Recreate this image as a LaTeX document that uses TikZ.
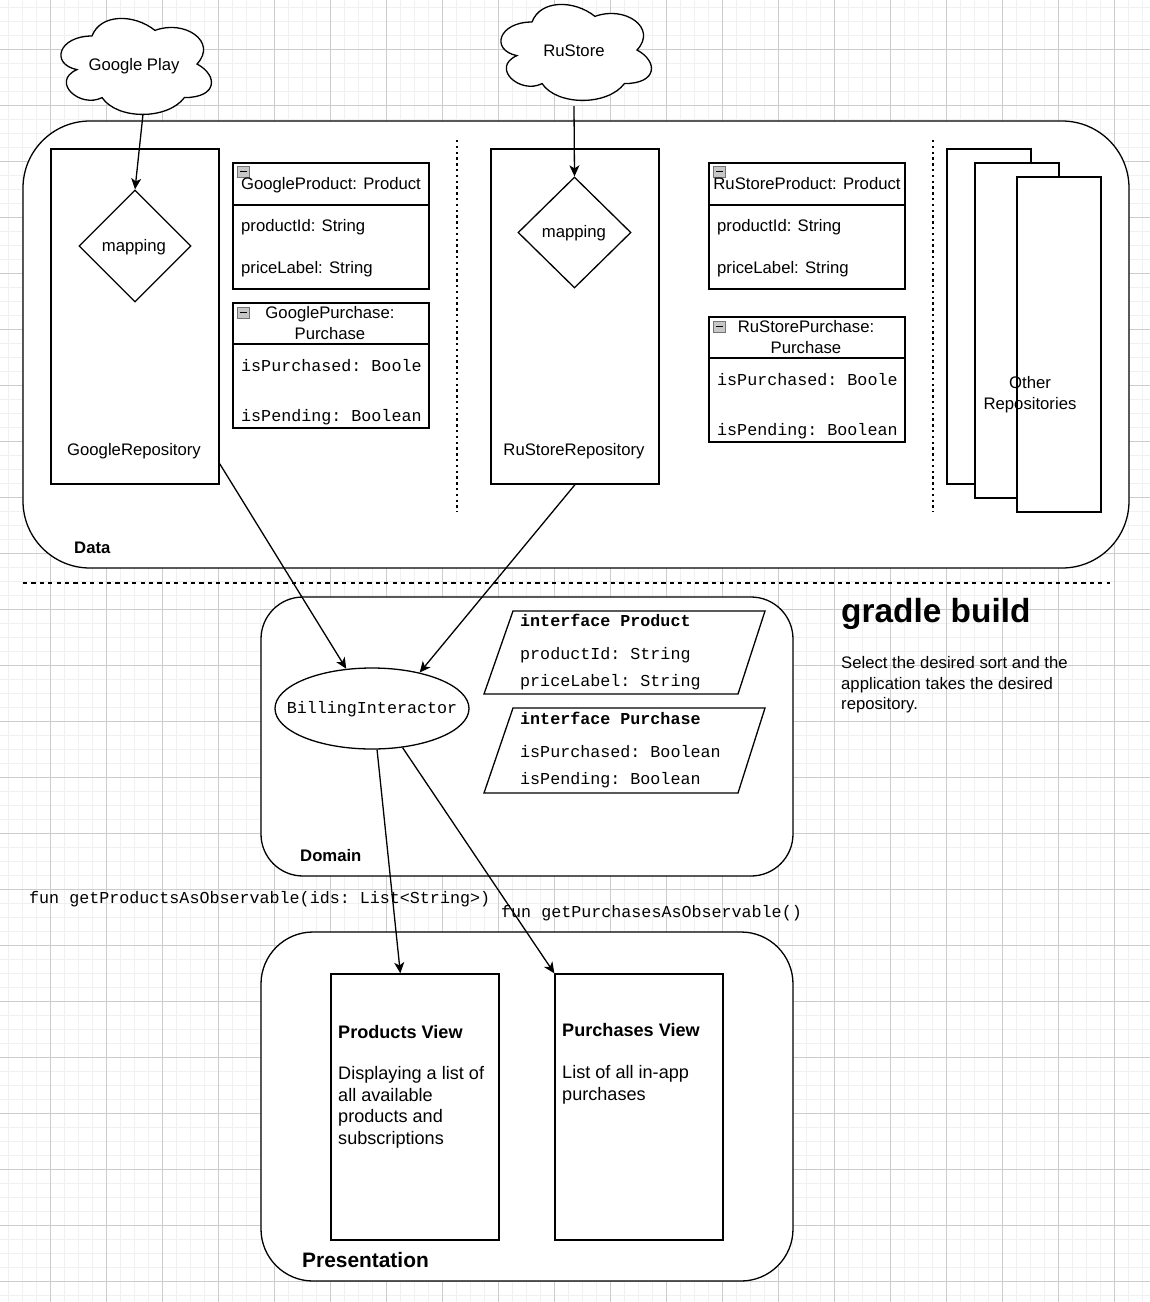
\documentclass[tikz,border=0pt]{standalone}
\usepackage{fontspec}
\setmainfont{Liberation Sans}
\setmonofont{Liberation Mono}
\usetikzlibrary{shapes.geometric,arrows.meta,calc}
\tikzset{
  fnt/.style={font=\fontsize{16.7pt}{20.9pt}\selectfont, inner sep=0pt},
  fntb/.style={font=\bfseries\fontsize{16.7pt}{20.9pt}\selectfont, inner sep=0pt},
  fntl/.style={font=\fontsize{18.1pt}{21.7pt}\selectfont, inner sep=0pt},
  fntlb/.style={font=\bfseries\fontsize{18.1pt}{21.7pt}\selectfont, inner sep=0pt},
  mono/.style={font=\ttfamily\fontsize{16.7pt}{20.9pt}\selectfont, inner sep=0pt},
  monob/.style={font=\ttfamily\bfseries\fontsize{16.7pt}{20.9pt}\selectfont, inner sep=0pt},
  minorgrid/.style={draw=black!6, line width=0.8pt},
  majorgrid/.style={draw=black!20, line width=0.8pt},
  shp/.style={draw=black, line width=1.3pt, fill=white},
  rbox/.style={shp, rectangle, inner sep=0pt},
  cellbox/.style={rectangle, inner sep=0pt, minimum width=168pt, minimum height=112pt},
  icon/.style={draw=black!55, fill=black!22, line width=0.8pt},
  conn/.style={draw=black, line width=1.3pt, -{Stealth[length=11pt,width=10pt,inset=3pt]}},
}
\newcommand{\cloudpath}{%
  (0.25,0.25) .. controls (0.05,0.25) and (0,0.5) .. (0.16,0.55)
  .. controls (0,0.66) and (0.18,0.9) .. (0.31,0.8)
  .. controls (0.4,1) and (0.7,1) .. (0.8,0.8)
  .. controls (1,0.8) and (1,0.6) .. (0.875,0.5)
  .. controls (1,0.3) and (0.8,0.1) .. (0.625,0.2)
  .. controls (0.5,0.05) and (0.3,0.05) .. (0.25,0.25) -- cycle}
\begin{document}
\begin{tikzpicture}[x=1pt,y=-1pt]
\useasboundingbox (0,0) rectangle (1150,1302);
\fill[white] (0,0) rectangle (1150,1302);
% grid
\foreach \i in {0,...,81} \draw[minorgrid] ({8+14*\i},0) -- ({8+14*\i},1302);
\foreach \i in {0,...,92} \draw[minorgrid] (0,{7+14*\i}) -- (1150,{7+14*\i});
\foreach \i in {0,...,19} \draw[majorgrid] ({50+56*\i},0) -- ({50+56*\i},1302);
\foreach \i in {0,...,22} \draw[majorgrid] (0,{49+56*\i}) -- (1150,{49+56*\i});

% clouds
\begin{scope}[shift={(50,8)}, x=168pt, y=-112pt]
  \draw[shp] \cloudpath;
\end{scope}
\node[cellbox] (gcloud) at (134,64) {};
\node[fnt, anchor=base] (gcloudlbl) at (134,70) {Google Play};
\begin{scope}[shift={(490,-6)}, x=168pt, y=-112pt]
  \draw[shp] \cloudpath;
\end{scope}
\node[cellbox] (rcloud) at (574,50) {};
\node[fnt, anchor=base] (rcloudlbl) at (574,56) {RuStore};

% Data container
\draw[shp, rounded corners=67pt] (23,121) rectangle (1129,568);
\node[fntb, anchor=base west] (datalbl) at (74,553) {Data};
\draw[line width=2.4pt, dash pattern=on 2.4pt off 3.4pt] (457,140) -- (457,512);
\draw[line width=2.4pt, dash pattern=on 2.4pt off 3.4pt] (933,140) -- (933,512);

% Google repository
\node[rbox, minimum width=168pt, minimum height=335pt] (grepo) at (135,316.5) {};
\node[fnt, anchor=base] (grepolbl) at (134,455) {GoogleRepository};
\node[diamond, shp, aspect=1, inner sep=0pt, minimum width=112pt, minimum height=112pt] (gmap) at (135,246) {};
\node[fnt, anchor=base] (gmaplbl) at (134,251) {mapping};

% GoogleProduct
\draw[shp] (233,163) rectangle (429,289);
\draw[line width=1.3pt] (233,205) -- (429,205);
\draw[icon] (237,166) rectangle (249,177);
\draw[line width=1pt] (239.5,171.5) -- (246.5,171.5);
\node[fnt, anchor=base] (gp1) at (331,189) {GoogleProduct: Product};
\node[fnt, anchor=base west] (gp2) at (241,231) {productId: String};
\node[fnt, anchor=base west] (gp3) at (241,273) {priceLabel: String};

% GooglePurchase
\draw[shp] (233,303) rectangle (429,428);
\draw[line width=1.3pt] (233,344) -- (429,344);
\draw[icon] (237,307) rectangle (249,318);
\draw[line width=1pt] (239.5,312.5) -- (246.5,312.5);
\node[fnt, anchor=base] (gu1) at (330,318) {GooglePurchase:};
\node[fnt, anchor=base] (gu2) at (330,339) {Purchase};
\node[mono, anchor=base west] (gu3) at (241,371) {isPurchased: Boole};
\node[mono, anchor=base west] (gu4) at (241,421) {isPending: Boolean};

% RuStore repository
\node[rbox, minimum width=168pt, minimum height=335pt] (rrepo) at (575,316.5) {};
\node[fnt, anchor=base] (rrepolbl) at (574,455) {RuStoreRepository};
\node[diamond, shp, aspect=1, inner sep=0pt, minimum width=113pt, minimum height=111pt] (rmap) at (574.5,232.5) {};
\node[fnt, anchor=base] (rmaplbl) at (574,237) {mapping};

% RuStoreProduct
\draw[shp] (709,163) rectangle (905,289);
\draw[line width=1.3pt] (709,205) -- (905,205);
\draw[icon] (713,166) rectangle (725,177);
\draw[line width=1pt] (715.5,171.5) -- (722.5,171.5);
\node[fnt, anchor=base] (rp1) at (807,189) {RuStoreProduct: Product};
\node[fnt, anchor=base west] (rp2) at (717,231) {productId: String};
\node[fnt, anchor=base west] (rp3) at (717,273) {priceLabel: String};

% RuStorePurchase
\draw[shp] (709,317) rectangle (905,442);
\draw[line width=1.3pt] (709,358) -- (905,358);
\draw[icon] (713,321) rectangle (725,332);
\draw[line width=1pt] (715.5,326.5) -- (722.5,326.5);
\node[fnt, anchor=base] (ru1) at (806,332) {RuStorePurchase:};
\node[fnt, anchor=base] (ru2) at (806,353) {Purchase};
\node[mono, anchor=base west] (ru3) at (717,385) {isPurchased: Boole};
\node[mono, anchor=base west] (ru4) at (717,435) {isPending: Boolean};

% Other repositories
\node[rbox, minimum width=84pt, minimum height=335pt] (or1) at (989,316.5) {};
\node[rbox, minimum width=84pt, minimum height=335pt] (or2) at (1017,330.5) {};
\node[rbox, minimum width=84pt, minimum height=335pt] (or3) at (1059,344.5) {};
\node[fnt, anchor=base] (orl1) at (1030,388) {Other};
\node[fnt, anchor=base] (orl2) at (1030,409) {Repositories};

% separator
\draw[line width=1.3pt, dash pattern=on 4.2pt off 4.2pt] (23,583) -- (1110,583);

% Domain
\draw[shp, rounded corners=42pt] (261,597) rectangle (793,876);
\node[fntb, anchor=base west] (domlbl) at (300,861) {Domain};
\node[ellipse, shp, inner sep=0pt, minimum width=194pt, minimum height=81pt] (bi) at (372,708.5) {};
\node[mono, anchor=base] (bilbl) at (372,713) {BillingInteractor};

\draw[shp] (513,611) -- (765,611) -- (738,694) -- (484,694) -- cycle;
\node[monob, anchor=base west] (ip1) at (520,626) {interface Product};
\node[mono, anchor=base west] (ip2) at (520,659) {productId: String};
\node[mono, anchor=base west] (ip3) at (520,686) {priceLabel: String};

\draw[shp] (513,708) -- (765,708) -- (738,793) -- (484,793) -- cycle;
\node[monob, anchor=base west] (iu1) at (520,724) {interface Purchase};
\node[mono, anchor=base west] (iu2) at (520,757) {isPurchased: Boolean};
\node[mono, anchor=base west] (iu3) at (520,784) {isPending: Boolean};

% gradle build
\node[font=\bfseries\fontsize{33.4pt}{40pt}\selectfont, inner sep=0pt, anchor=base west] (gb) at (841,622) {gradle build};
\node[fnt, anchor=base west] (gbt1) at (841,668) {Select the desired sort and the};
\node[fnt, anchor=base west] (gbt2) at (841,689) {application takes the desired};
\node[fnt, anchor=base west] (gbt3) at (841,709) {repository.};

% function labels
\node[mono, anchor=base west] (fn1) at (29,903) {fun getProductsAsObservable(ids: List<String>)};
\node[mono, anchor=base west] (fn2) at (501,917) {fun getPurchasesAsObservable()};

% Presentation
\draw[shp, rounded corners=52pt] (261,932) rectangle (793,1281);
\node[font=\bfseries\fontsize{20.9pt}{25pt}\selectfont, inner sep=0pt, anchor=base west] (prlbl) at (302,1267.5) {Presentation};

\node[rbox, minimum width=168pt, minimum height=266pt] (pv) at (415,1107) {};
\node[fntlb, anchor=base west] (pv1) at (338,1038.5) {Products View};
\node[fntl, anchor=base west] (pv2) at (338,1079.5) {Displaying a list of};
\node[fntl, anchor=base west] (pv3) at (338,1101.5) {all available};
\node[fntl, anchor=base west] (pv4) at (338,1122.5) {products and};
\node[fntl, anchor=base west] (pv5) at (338,1144.5) {subscriptions};

\node[rbox, minimum width=168pt, minimum height=266pt] (puv) at (639,1107) {};
\node[fntlb, anchor=base west] (puv1) at (562,1036.5) {Purchases View};
\node[fntl, anchor=base west] (puv2) at (562,1078.5) {List of all in-app};
\node[fntl, anchor=base west] (puv3) at (562,1100.5) {purchases};

% connectors
\draw[conn] ($(gcloud.south)+(9,-6)$) -- (gmap.north);
\draw[conn] (rcloud.south) -- (rmap.north);
\draw[conn] ($(grepo.south east)+(0,-21)$) -- (bi.123);
\draw[conn] (rrepo.south) -- (bi.37);
\draw[conn] (bi.-83) -- ($(pv.north west)+(70,0)$);
\draw[conn] (bi.-52) -- (puv.north west);
\end{tikzpicture}
\end{document}
